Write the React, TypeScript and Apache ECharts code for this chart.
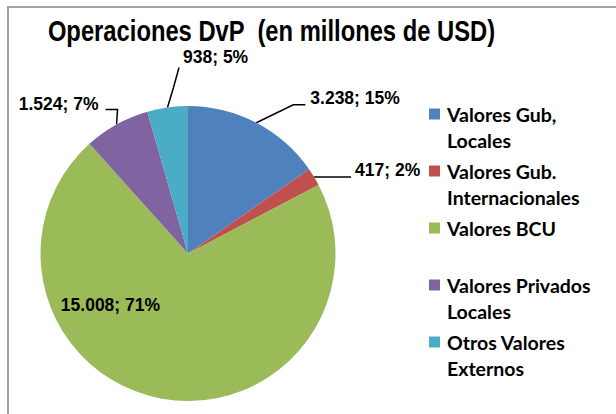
import React, { useEffect, useRef } from "react";
import * as echarts from "echarts";

const categories = [
  "Valores Gub, Locales",
  "Valores Gub. Internacionales",
  "Valores BCU",
  "Valores Privados Locales",
  "Otros Valores Externos",
];
const legendLines = [
  " \nValores Gub,\nLocales",
  " \nValores Gub.\nInternacionales",
  " \nValores BCU\n ",
  " \nValores Privados\nLocales",
  " \nOtros Valores\nExternos",
];
const values = [3238, 417, 15008, 1524, 938];
const percents = [15, 2, 71, 7, 5];
const colors = ["#4F81BD", "#C0504D", "#9BBB59", "#8064A2", "#4BACC6"];
const titleText = "Operaciones DvP  (en millones de USD)";

const ARIAL = "'Liberation Sans', Arial, sans-serif";
const LEGEND_FONT = "Lato, 'Noto Sans', sans-serif";

function fmt(v: number): string {
  return String(v).replace(/\B(?=(\d{3})+(?!\d))/g, ".");
}

export default function App() {
  const ref = useRef<HTMLDivElement>(null);
  useEffect(() => {
    if (!ref.current) return;
    const chart = echarts.init(ref.current, null, { renderer: "svg" });
    const option: any = {
      animation: false,
      backgroundColor: "#ffffff",
      graphic: [
        {
          type: "rect",
          shape: { x: 8, y: 7, width: 700, height: 500 },
          style: { fill: "none", stroke: "#a3a3a3", lineWidth: 2 },
          silent: true,
          z: 0,
        },
        {
          type: "text",
          x: 271.5,
          y: 31,
          scaleX: 0.82,
          style: {
            text: titleText,
            align: "center",
            verticalAlign: "middle",
            fontFamily: ARIAL,
            fontWeight: "bold",
            fontSize: 29,
            fill: "#000",
          },
          silent: true,
        },
      ],
      legend: {
        orient: "vertical",
        left: 429,
        top: 75,
        height: 340,
        padding: 0,
        itemWidth: 11,
        itemHeight: 11,
        itemGap: -21,
        icon: "rect",
        data: categories,
        formatter: (name: string) => legendLines[categories.indexOf(name)],
        textStyle: {
          fontFamily: LEGEND_FONT,
          fontWeight: "bold",
          fontSize: 19.5,
          lineHeight: 26,
          color: "#000",
          padding: [0, 0, 0, 2],
        },
      },
      series: [
        {
          type: "pie",
          center: [188, 253.5],
          radius: 147.5,
          startAngle: 90,
          clockwise: true,
          avoidLabelOverlap: false,
          itemStyle: { borderWidth: 0 },
          label: {
            show: true,
            position: "outside",
            fontFamily: ARIAL,
            fontWeight: "bold",
            fontSize: 17.5,
            color: "#000",
            formatter: (p: any) => `${fmt(p.value)}; ${percents[p.dataIndex]}%`,
          },
          labelLine: { show: true, length: 15, length2: 15, lineStyle: { color: "#000", width: 1.5 } },
          labelLayout: (params: any) => {
            const i = params.dataIndex;
            const pts = params.labelLinePoints;
            if (i === 2 || !pts) {
              return { dx: -64, dy: -24 };
            }
            const a = pts[0];
            if (i === 0) {
              const p1 = [a[0] + 37, a[1] - 18];
              const p2 = [p1[0] + 12, p1[1]];
              return { x: p2[0] + 5, y: p2[1] - 7, align: "left", verticalAlign: "middle", labelLinePoints: [a, p1, p2] };
            }
            if (i === 1) {
              const p1 = [a[0] + 18, a[1]];
              const p2 = [a[0] + 37, a[1]];
              return { x: p2[0] + 4, y: p2[1] - 7, align: "left", verticalAlign: "middle", labelLinePoints: [a, p1, p2] };
            }
            if (i === 3) {
              const p1 = [a[0] + 1, a[1] - 15];
              const p2 = [p1[0] - 12, p1[1]];
              return { x: p2[0] - 7, y: p2[1] - 5, align: "right", verticalAlign: "middle", labelLinePoints: [a, p1, p2] };
            }
            const p1 = [a[0] + 11.5, a[1] - 40];
            return { x: p1[0] + 4, y: p1[1] - 10, align: "left", verticalAlign: "middle", labelLinePoints: [a, [a[0] + 6, a[1] - 20], p1] };
          },
          data: categories.map((name, i) => ({
            name,
            value: values[i],
            itemStyle: { color: colors[i] },
            label: i === 2 ? { position: "inside" } : undefined,
            labelLine: i === 2 ? { show: false } : undefined,
          })),
        },
      ],
    };
    chart.setOption(option);
    return () => chart.dispose();
  }, []);
  return (
    <div
      ref={ref}
      style={{ position: "absolute", left: 0, top: 0, width: 616, height: 414, background: "#fff" }}
    />
  );
}
